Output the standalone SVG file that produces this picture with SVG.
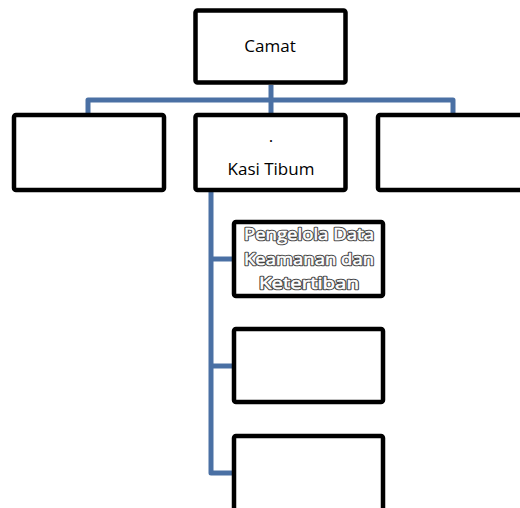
<svg xmlns="http://www.w3.org/2000/svg" width="520" height="508" viewBox="0 0 520 508">
<style>
.box{fill:#fff;stroke:#000;stroke-width:4.5;stroke-linejoin:round}
.conn{fill:none;stroke:#4A70A4;stroke-width:5;stroke-linejoin:round}
.lbl{font-family:"Open Sans","Liberation Sans",sans-serif;font-size:17px;fill:#000;text-anchor:middle}
.out{font-family:"Open Sans","Liberation Sans",sans-serif;font-size:17px;text-anchor:middle}
.o1{fill:#444;stroke:#444;stroke-width:2.6;stroke-linejoin:round}
.o2{fill:#fff;stroke:#fff;stroke-width:0.6}
</style>
<rect width="520" height="508" fill="#fff"/>
<g id="connectors">
<path class="conn" d="M88,113 V100 H453 V113"/>
<path class="conn" d="M271,85 V113"/>
<path class="conn" d="M211,192 V473 H232"/>
<path class="conn" d="M211,259 H232"/>
<path class="conn" d="M211,366 H232"/>
</g>
<g id="camat">
<rect class="box" x="195.5" y="10.5" width="150" height="72" rx="2"/>
<text class="lbl" x="270" y="52" font-size="18">Camat</text>
</g>
<g id="box-left">
<rect class="box" x="14" y="115" width="150" height="75" rx="2"/>
</g>
<g id="kasi-tibum">
<rect class="box" x="195.5" y="115" width="150" height="75" rx="2"/>
<text class="lbl" x="271" y="142">.</text>
<text class="lbl" x="271" y="175">Kasi Tibum</text>
</g>
<g id="box-right">
<rect class="box" x="378" y="115" width="150" height="75" rx="2"/>
</g>
<g id="pengelola">
<rect class="box" x="234" y="222" width="149" height="74" rx="2"/>
<g class="out o1">
<text x="309" y="240" textLength="130" lengthAdjust="spacingAndGlyphs">Pengelola Data</text>
<text x="309" y="265" textLength="130" lengthAdjust="spacingAndGlyphs">Keamanan dan</text>
<text x="309" y="289" textLength="100" lengthAdjust="spacingAndGlyphs">Ketertiban</text>
</g>
<g class="out o2">
<text x="309" y="240" textLength="130" lengthAdjust="spacingAndGlyphs">Pengelola Data</text>
<text x="309" y="265" textLength="130" lengthAdjust="spacingAndGlyphs">Keamanan dan</text>
<text x="309" y="289" textLength="100" lengthAdjust="spacingAndGlyphs">Ketertiban</text>
</g>
</g>
<g id="box-sub2">
<rect class="box" x="234" y="329" width="149" height="73" rx="2"/>
</g>
<g id="box-sub3">
<rect class="box" x="234" y="436" width="149" height="80" rx="2"/>
</g>
</svg>
